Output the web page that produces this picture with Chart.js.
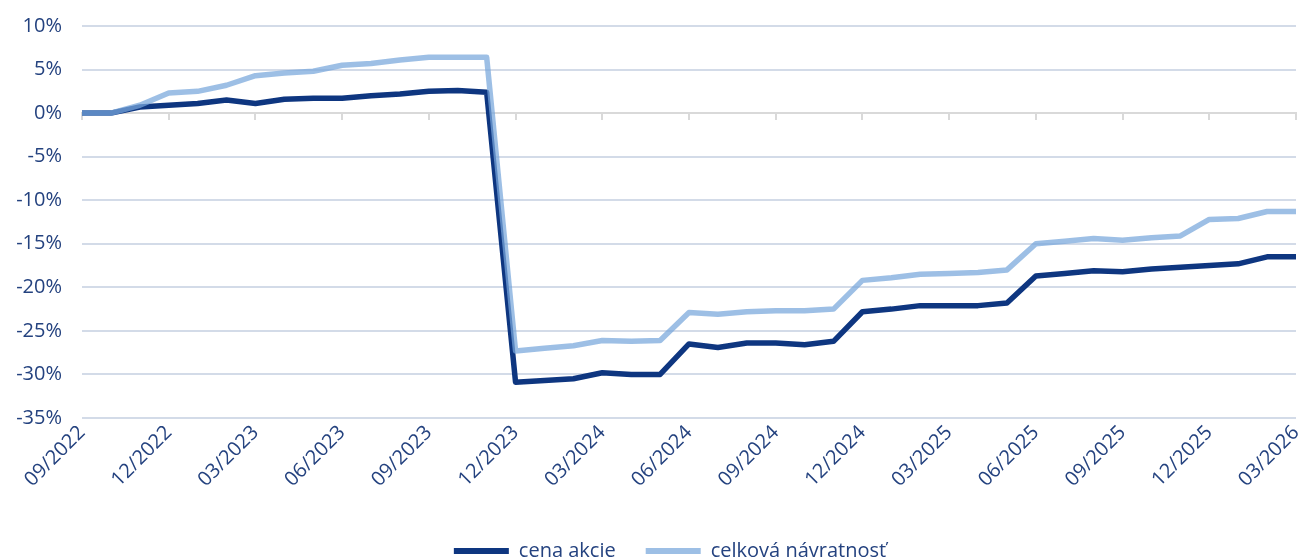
<!DOCTYPE html>
<html>
<head>
<meta charset="utf-8">
<script src="https://cdn.jsdelivr.net/npm/chart.js@4.4.1/dist/chart.umd.min.js"></script>
<style>
  html, body { margin: 0; padding: 0; background: #fff; }
  #wrap { width: 1298px; height: 560px; }
</style>
</head>
<body>
<div id="wrap"><canvas id="perfChart"></canvas></div>
<script>
// months 09/2022 .. 03/2026
const months = [
  '09/2022', '10/2022', '11/2022', '12/2022',
  '01/2023', '02/2023', '03/2023', '04/2023', '05/2023', '06/2023',
  '07/2023', '08/2023', '09/2023', '10/2023', '11/2023', '12/2023',
  '01/2024', '02/2024', '03/2024', '04/2024', '05/2024', '06/2024',
  '07/2024', '08/2024', '09/2024', '10/2024', '11/2024', '12/2024',
  '01/2025', '02/2025', '03/2025', '04/2025', '05/2025', '06/2025',
  '07/2025', '08/2025', '09/2025', '10/2025', '11/2025', '12/2025',
  '01/2026', '02/2026', '03/2026'
];

// % change
const cenaAkcie = [
  0, 0, 0.7, 0.9, 1.1, 1.5, 1.1, 1.6, 1.7, 1.7, 2.0, 2.2, 2.5, 2.6, 2.4,
  -30.9, -30.7, -30.5, -29.8, -30.0, -30.0,
  -26.5, -26.9, -26.4, -26.4, -26.6, -26.2,
  -22.8, -22.5, -22.1, -22.1, -22.1, -21.8,
  -18.7, -18.4, -18.1, -18.2, -17.9, -17.7, -17.5, -17.3, -16.5, -16.5
];

const celkovaNavratnost = [
  0, 0, 0.9, 2.3, 2.5, 3.2, 4.3, 4.6, 4.8, 5.5, 5.7, 6.1, 6.4, 6.4, 6.4,
  -27.3, -27.0, -26.7, -26.1, -26.2, -26.1,
  -22.9, -23.1, -22.8, -22.7, -22.7, -22.5,
  -19.2, -18.9, -18.5, -18.4, -18.3, -18.0,
  -15.0, -14.7, -14.4, -14.6, -14.3, -14.1, -12.2, -12.1, -11.3, -11.3
];

const yTicks = { min: -35, max: 10, step: 5 };

const txtColor = '#24427f';
const font = { family: 'Open Sans', size: 20 };

Chart.defaults.font.family = 'Open Sans';
Chart.defaults.color = txtColor;

// legend in the reference sits a bit right of the page centre
const legendShift = {
  id: 'legendShift',
  afterLayout(chart) {
    chart.legend.left += 22;
    chart.legend.right += 22;
  }
};

const ctx = document.getElementById('perfChart').getContext('2d');
new Chart(ctx, {
  type: 'line',
  data: {
    labels: months,
    datasets: [
      {
        label: 'cena akcie',
        data: cenaAkcie,
        borderColor: '#0e3680',
        legendColor: '#0e3680',
        borderWidth: 5.5,
        pointRadius: 0,
        tension: 0,
        borderJoinStyle: 'round',
        order: 1
      },
      {
        label: 'celková návratnosť',
        data: celkovaNavratnost,
        borderColor: 'rgba(121,167,219,0.73)',
        legendColor: '#9dbfe5',
        borderWidth: 5.5,
        pointRadius: 0,
        tension: 0,
        borderJoinStyle: 'round',
        order: 0
      }
    ]
  },
  options: {
    responsive: true,
    maintainAspectRatio: false,
    animation: false,
    layout: { padding: { left: 0, right: 2, top: 26, bottom: -11 } },
    plugins: {
      tooltip: { enabled: false },
      legend: {
        position: 'bottom',
        labels: {
          boxWidth: 55,
          boxHeight: 6,
          padding: 30,
          font: font,
          color: txtColor,
          generateLabels(chart) {
            const items = Chart.defaults.plugins.legend.labels.generateLabels(chart);
            items.forEach(it => {
              const ds = chart.data.datasets[it.datasetIndex];
              it.fillStyle = ds.legendColor;
              it.strokeStyle = ds.legendColor;
              it.lineWidth = 0;
            });
            return items.sort((a, b) => a.datasetIndex - b.datasetIndex);
          }
        }
      }
    },
    scales: {
      x: {
        type: 'category',
        position: 'bottom',
        offset: false,
        grid: { display: false, drawTicks: false },
        border: { display: false },
        ticks: {
          autoSkip: false,
          minRotation: 45,
          maxRotation: 45,
          padding: 3,
          font: font,
          color: txtColor,
          callback: function (v, i) { return i % 3 === 0 ? this.getLabelForValue(v) : ''; }
        },
        afterFit(scale) {
          scale.height = 93;
          scale.paddingLeft = 0;
          scale.paddingRight = 0;
        }
      },
      // axis line across 0 %
      x0: {
        type: 'category',
        position: { y: 0 },
        offset: false,
        grid: {
          display: true,
          drawOnChartArea: false,
          drawTicks: true,
          tickLength: 6,
          lineWidth: 2,
          tickColor: c => (c.index % 3 === 0 ? '#d9d9d9' : 'rgba(0,0,0,0)')
        },
        border: { display: true, color: '#d9d9d9', width: 2 },
        ticks: { display: false, autoSkip: false }
      },
      y: {
        min: yTicks.min,
        max: yTicks.max,
        grid: {
          drawTicks: false,
          lineWidth: 2,
          color: c => (c.tick && c.tick.value === 0 ? 'rgba(0,0,0,0)' : '#d3dbe8')
        },
        border: { display: false },
        ticks: {
          stepSize: yTicks.step,
          padding: 20,
          font: font,
          color: txtColor,
          callback: v => v + '%'
        },
        afterFit(scale) {
          scale.width = 82;
          scale.paddingTop = 0;
          scale.paddingBottom = 0;
        }
      }
    }
  },
  plugins: [legendShift]
});
</script>
</body>
</html>
